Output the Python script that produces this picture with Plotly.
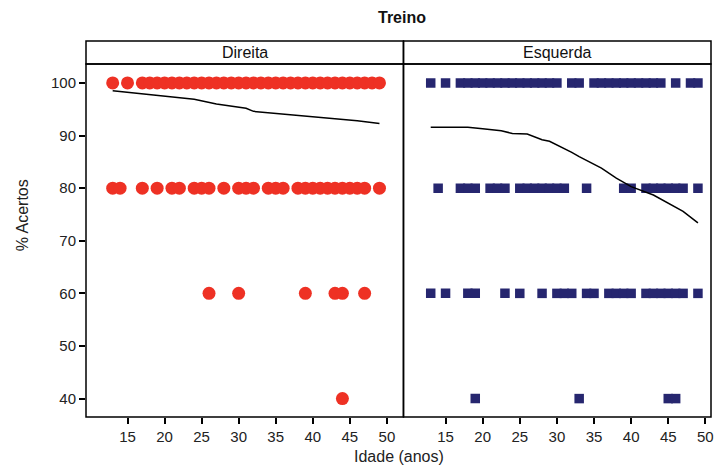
import plotly.graph_objects as go

# ---- data ----
panels = ["Direita", "Esquerda"]

direita_100 = [13, 15, 17, 18, 19, 20, 21, 22, 23, 24, 25, 26, 27, 28, 29, 30, 31, 32, 33,
               34, 35, 36, 37, 38, 39, 40, 41, 42, 43, 44, 45, 46, 47, 48, 49]
direita_80 = [13, 14, 17, 19, 21, 22, 24, 25, 26, 28, 30, 31, 32, 34, 35, 36,
              38, 39, 40, 41, 42, 43, 44, 45, 46, 47, 49]
direita_60 = [26, 30, 39, 43, 44, 47]
direita_40 = [44]

esquerda_100 = [13, 15, 17, 18, 19, 20, 21, 22, 23, 24, 25, 26, 27, 28, 29, 30, 32, 33,
                35, 36, 37, 38, 39, 40, 41, 42, 43, 44, 46, 48, 49]
esquerda_80 = [14, 17, 18, 19, 21, 22, 23, 25, 26, 27, 28, 29, 30, 31, 34, 39, 40,
               42, 43, 44, 45, 46, 47, 49]
esquerda_60 = [13, 15, 18, 19, 23, 25, 28, 30, 31, 32, 34, 35, 37, 38, 39, 40,
               42, 43, 44, 45, 46, 47, 49]
esquerda_40 = [19, 33, 45, 46]

direita_line_age = [13, 17, 20, 24, 27, 31, 32, 36, 42, 46, 49]
direita_line_val = [98.5, 97.9, 97.5, 96.9, 96.0, 95.2, 94.6, 94.1, 93.3, 92.8, 92.3]

esquerda_line_age = [13, 18, 20, 22.5, 24, 26, 28, 29, 32, 33, 36, 38, 40, 43, 47, 49]
esquerda_line_val = [91.6, 91.6, 91.3, 90.9, 90.4, 90.3, 89.2, 88.9, 86.8, 86.0,
                     83.8, 81.9, 80.3, 78.7, 75.6, 73.4]

x_ticks = [15, 20, 25, 30, 35, 40, 45, 50]
y_ticks = [40, 50, 60, 70, 80, 90, 100]

RED = "#EE3124"
NAVY = "#26266F"
FONT = "Liberation Sans"

fig = go.Figure()

def add_points(groups, xa, ya, symbol, color, size):
    xs, ys = [], []
    for level, ages in groups:
        xs += ages
        ys += [level] * len(ages)
    fig.add_trace(go.Scatter(x=xs, y=ys, mode="markers", xaxis=xa, yaxis=ya,
                             marker=dict(symbol=symbol, color=color, size=size,
                                         line=dict(width=0)),
                             showlegend=False, hoverinfo="x+y"))

add_points([(100, direita_100), (80, direita_80), (60, direita_60), (40, direita_40)],
           "x", "y", "circle", RED, 13)
add_points([(100, esquerda_100), (80, esquerda_80), (60, esquerda_60), (40, esquerda_40)],
           "x2", "y2", "square", NAVY, 9.5)

fig.add_trace(go.Scatter(x=direita_line_age, y=direita_line_val, mode="lines",
                         xaxis="x", yaxis="y", line=dict(color="black", width=1.5),
                         showlegend=False))
fig.add_trace(go.Scatter(x=esquerda_line_age, y=esquerda_line_val, mode="lines",
                         xaxis="x2", yaxis="y2", line=dict(color="black", width=1.5),
                         showlegend=False))

W, H = 716, 468
ML, MR, MT, MB = 86, 2, 41, 51
PW = W - ML - MR
PH = H - MT - MB
split = (405 - ML) / PW
ytop = (417 - 64) / PH

tickfont = dict(family=FONT, size=15, color="#222")
xcommon = dict(tickvals=x_ticks, ticks="outside", ticklen=6, tickwidth=1.5,
               tickcolor="black", showgrid=False, zeroline=False, showline=False,
               tickfont=tickfont, ticklabeloverflow="allow")

fig.update_layout(
    width=W, height=H,
    margin=dict(l=ML, r=MR, t=MT, b=MB),
    paper_bgcolor="white", plot_bgcolor="white",
    font=dict(family=FONT, color="#222"),
    xaxis=dict(domain=[0, split], range=[9.4, 52.24], anchor="y", **xcommon),
    xaxis2=dict(domain=[split, 1], range=[9.33, 50.76], anchor="y2", **xcommon),
    yaxis=dict(domain=[0, ytop], range=[36.5, 103.6], tickvals=y_ticks,
               ticks="outside", ticklen=6, tickwidth=1.5, tickcolor="black",
               showgrid=False, zeroline=False, showline=False, tickfont=tickfont,
               anchor="x"),
    yaxis2=dict(domain=[0, ytop], range=[36.5, 103.6], showticklabels=False,
                ticks="", showgrid=False, zeroline=False, showline=False,
                anchor="x2"),
)

line = dict(color="black", width=1.5)
for x0, x1 in [(0, split), (split, 1)]:
    fig.add_shape(type="rect", xref="paper", yref="paper", x0=x0, x1=x1, y0=0, y1=ytop,
                  line=line, fillcolor="rgba(0,0,0,0)")
    fig.add_shape(type="rect", xref="paper", yref="paper", x0=x0, x1=x1, y0=ytop, y1=1,
                  line=line, fillcolor="rgba(0,0,0,0)")

for name, x0, x1 in [(panels[0], 0, split), (panels[1], split, 1)]:
    fig.add_annotation(text=name, xref="paper", yref="paper", x=(x0 + x1) / 2,
                       y=(ytop + 1) / 2, showarrow=False, xanchor="center",
                       yanchor="middle", font=dict(family=FONT, size=16, color="#111"))

fig.add_annotation(text="<b>Treino</b>", xref="paper", yref="paper",
                   x=(404 - ML) / PW, y=(H - MB - 18) / PH, showarrow=False,
                   xanchor="center", yanchor="middle",
                   font=dict(family=FONT, size=16, color="#111"))
fig.add_annotation(text="% Acertos", xref="paper", yref="paper",
                   x=(22 - ML) / PW, y=(H - MB - 215) / PH, showarrow=False,
                   textangle=-90, xanchor="center", yanchor="middle",
                   font=dict(family=FONT, size=16, color="#222"))
fig.add_annotation(text="Idade (anos)", xref="paper", yref="paper",
                   x=(400 - ML) / PW, y=(H - MB - 467) / PH, showarrow=False,
                   xanchor="center", yanchor="bottom",
                   font=dict(family=FONT, size=16, color="#222"))

fig.write_html("out.html")
